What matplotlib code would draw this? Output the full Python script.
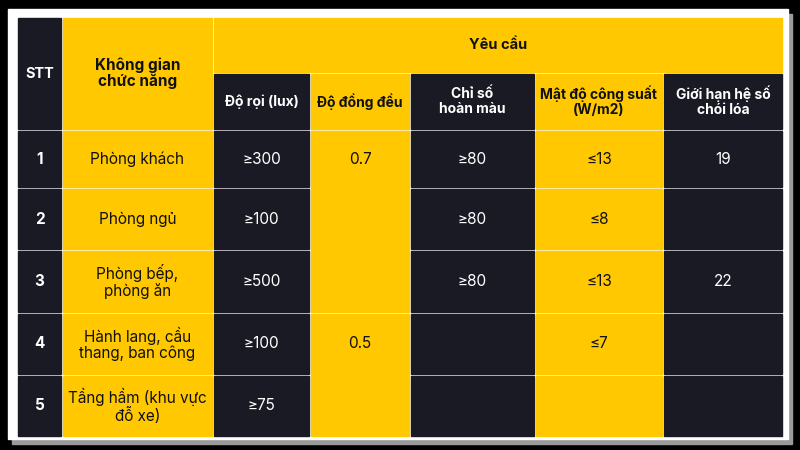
import matplotlib
matplotlib.use("Agg")
import matplotlib.pyplot as plt
from matplotlib.patches import Rectangle

# ---------- DATA ------------
stt = ["1", "2", "3", "4", "5"]
spaces = ["Phòng khách", "Phòng ngủ", "Phòng bếp,\nphòng ăn", "Hành lang, cầu\nthang, ban công", "Tầng hầm (khu vực\nđỗ xe)"]
illuminance = ["≥300", "≥100", "≥500", "≥100", "≥75"]
uniformity = [("0.7", 0, 3), ("0.5", 3, 5)]  # value, first row, end row (merged)
cri = ["≥80", "≥80", "≥80", "", ""]
power_density = ["≤13", "≤8", "≤13", "≤7", ""]
glare = ["19", "", "22", "", ""]
sub_headers = ["Độ rọi (lux)", "Độ đồng đều", "Chỉ số\nhoàn màu", "Mật độ công suất\n(W/m2)", "Giới hạn hệ số\nchói lóa"]
# ----------------------------

DARK = "#1a1a24"
YELLOW = "#ffc800"
FONT = "Inter"

col_x = [17, 62, 213, 310, 410, 535, 663, 783]
row_y = [130, 188, 250, 313, 375, 437]
col_fill = [DARK, YELLOW, DARK, YELLOW, DARK, YELLOW, DARK]

fig = plt.figure(figsize=(8, 4.5), dpi=100)
fig.patch.set_facecolor("black")
ax = fig.add_axes([0, 0, 1, 1])
ax.set_xlim(0, 800)
ax.set_ylim(450, 0)
ax.axis("off")

# panel + shadow
ax.add_patch(Rectangle((12, 14), 780, 430, color="#9a9a9a", zorder=0))
ax.add_patch(Rectangle((8, 9), 780, 430, color="white", zorder=1))


def cell(x0, y0, x1, y1, fill, text="", bold=False, size=11):
    ax.add_patch(Rectangle((x0 + 1, y0 + 1), x1 - x0 - 2, y1 - y0 - 2, color=fill, zorder=2))
    if text:
        ax.text((x0 + x1) / 2, (y0 + y1) / 2, text, ha="center", va="center",
                color="white" if fill == DARK else "#111111", fontsize=size,
                fontfamily=FONT, fontweight="bold" if bold else "normal",
                linespacing=1.1, zorder=3)


# header
cell(col_x[0], 17, col_x[1], row_y[0], DARK, "STT", bold=True, size=10.5)
ax.text((col_x[1] + col_x[2]) / 2, 73, "Không gian\nchức năng", ha="center", va="center",
        color="#111111", fontsize=11, fontfamily=FONT, fontweight="bold", linespacing=1.1, zorder=3)
ax.add_patch(Rectangle((col_x[1] + 1, 18), col_x[2] - col_x[1] - 2, row_y[0] - 19, color=YELLOW, zorder=2))
cell(col_x[2], 17, col_x[7], 73, YELLOW, "Yêu cầu", bold=True, size=10.5)
for i, h in enumerate(sub_headers):
    cell(col_x[2 + i], 73, col_x[3 + i], row_y[0], col_fill[2 + i], h, bold=True, size=10)

# body
columns = [stt, spaces, illuminance, None, cri, power_density, glare]
for c, values in enumerate(columns):
    if values is None:
        continue
    for r, v in enumerate(values):
        cell(col_x[c], row_y[r], col_x[c + 1], row_y[r + 1], col_fill[c], v,
             bold=(c == 0), size=11)
for v, r0, r1 in uniformity:
    cell(col_x[3], row_y[r0], col_x[4], row_y[r1], YELLOW, "")
    ax.text((col_x[3] + col_x[4]) / 2, (row_y[r0] + row_y[r0 + 1]) / 2, v, ha="center",
            va="center", color="#111111", fontsize=11, fontfamily=FONT, zorder=3)

fig.savefig("out.png", dpi=100, facecolor="black")
